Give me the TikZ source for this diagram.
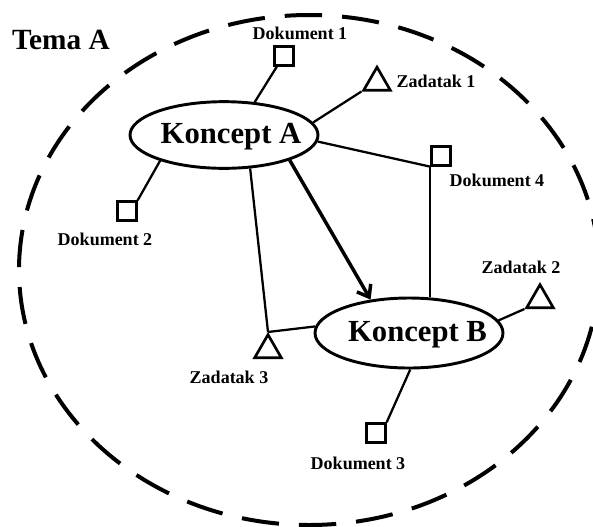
\documentclass[tikz,border=0pt]{standalone}
\usepackage{fontspec}
\setmainfont{Liberation Serif}
\usetikzlibrary{shapes.geometric,arrows.meta}

\begin{document}
\begin{tikzpicture}[x=0.75pt,y=-0.75pt,
  concept/.style={ellipse,draw,line width=2.2pt,minimum width=141pt,minimum height=50pt,inner sep=0pt},
  conceptname/.style={anchor=base,inner sep=0pt,font=\fontsize{23}{23}\selectfont\bfseries},
  docbox/.style={rectangle,draw,line width=2pt,minimum size=14pt,inner sep=0pt},
  taskbox/.style={regular polygon,regular polygon sides=3,draw,line width=2pt,minimum size=23pt,inner sep=0pt},
  itemname/.style={inner sep=0pt,font=\fontsize{13.5}{14}\selectfont\bfseries},
  link/.style={line width=1.7pt},
  flow/.style={line width=2.6pt,-{Straight Barb[length=8pt,width=12pt]}},
  topic/.style={line width=3pt,dash pattern=on 28pt off 15pt}
]
\useasboundingbox (0,0) rectangle (593,526);

% topic boundary
\draw[topic] (309,270) ellipse [x radius=290, y radius=255];
\node[inner sep=0pt,font=\fontsize{22}{22}\selectfont\bfseries] (tema) at (61,40) {Tema A};

% concepts
\node[concept] (ka) at (224,135) {};
\node[conceptname] (kat) at (231,143) {Koncept A};
\node[concept,minimum height=52.5pt] (kb) at (409,333) {};
\node[conceptname] (kbt) at (417.5,341) {Koncept B};

% documents
\node[docbox] (d1) at (284,56) {};
\node[docbox] (d2) at (127,211) {};
\node[docbox] (d3) at (376,433) {};
\node[docbox] (d4) at (441,156) {};
\node[itemname] (d1t) at (300,33) {Dokument 1};
\node[itemname] (d2t) at (105,239) {Dokument 2};
\node[itemname] (d3t) at (358,463) {Dokument 3};
\node[itemname] (d4t) at (497,180) {Dokument 4};

% tasks
\node[taskbox] (z1) at (377,82.5) {};
\node[taskbox] (z2) at (540,300) {};
\node[taskbox] (z3) at (268,350) {};
\node[itemname] (z1t) at (436,81) {Zadatak 1};
\node[itemname] (z2t) at (521,267) {Zadatak 2};
\node[itemname] (z3t) at (229,377) {Zadatak 3};

% links
\draw[link] (d1.-124) -- (ka.47);
\draw[link] (z1.corner 2) -- (ka.8);
\draw[link] (ka.-4) -- (d4.south west);
\draw[link] (d4.south west) -- (d4.south west |- kb.north);
\draw[link] (d2.north east) -- (ka.202);
\draw[link] (ka.-52) -- (z3.corner 1);
\draw[link] (kb.176) -- (z3.corner 1);
\draw[link] (kb.8) -- (z2.corner 2);
\draw[link] (kb.-88) -- (d3.north east);
\draw[flow] (ka.-21) -- (kb.139);
\end{tikzpicture}
\end{document}
